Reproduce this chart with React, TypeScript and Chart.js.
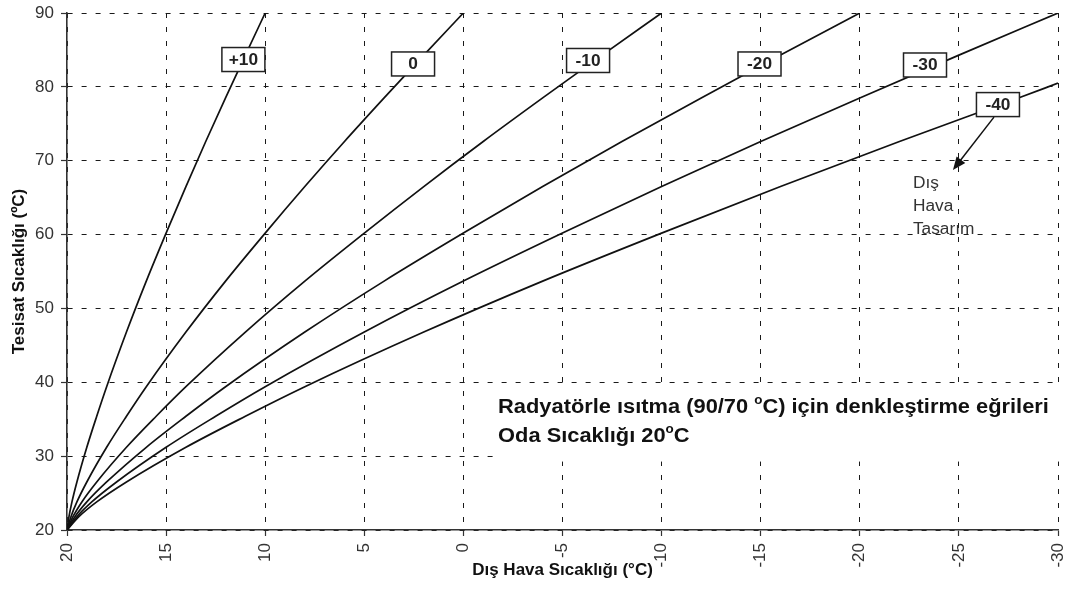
import React, { useEffect, useRef } from 'react';
import { Chart, registerables } from 'chart.js';

Chart.register(...registerables);

// ---- axes / ticks ----
const xTicks = [20, 15, 10, 5, 0, -5, -10, -15, -20, -25, -30];
const yTicks = [20, 30, 40, 50, 60, 70, 80, 90];

// ---- curves (design outdoor temperature) ----
const curveNames = ['+10', '0', '-10', '-20', '-30', '-40'];

const outdoorP10 = [20, 19.9, 19.75, 19.5, 19, 18.5, 18, 17, 16, 15, 14, 13, 12, 11, 10];
const supplyP10 = [20, 21.8, 23.8, 26.5, 31.2, 35.4, 39.4, 46.8, 53.7, 60.2, 66.5, 72.6, 78.5, 84.3, 90];

const outdoor0 = [20, 19.8, 19.5, 19, 18, 17, 16, 14, 12, 10, 8, 6, 4, 2, 0];
const supply0 = [20, 21.8, 23.8, 26.5, 31.2, 35.4, 39.4, 46.8, 53.7, 60.2, 66.5, 72.6, 78.5, 84.3, 90];

const outdoorM10 = [20, 19.7, 19.25, 18.5, 17, 15.5, 14, 11, 8, 5, 2, -1, -4, -7, -10];
const supplyM10 = [20, 21.8, 23.8, 26.5, 31.2, 35.4, 39.4, 46.8, 53.7, 60.2, 66.5, 72.6, 78.5, 84.3, 90];

const outdoorM20 = [20, 19.6, 19, 18, 16, 14, 12, 8, 4, 0, -4, -8, -12, -16, -20];
const supplyM20 = [20, 21.8, 23.8, 26.5, 31.2, 35.4, 39.4, 46.8, 53.7, 60.2, 66.5, 72.6, 78.5, 84.3, 90];

const outdoorM30 = [20, 19.5, 18.75, 17.5, 15, 12.5, 10, 5, 0, -5, -10, -15, -20, -25, -30];
const supplyM30 = [20, 21.8, 23.8, 26.5, 31.2, 35.4, 39.4, 46.8, 53.7, 60.2, 66.5, 72.6, 78.5, 84.3, 90];

const outdoorM40 = [20, 19.4, 18.5, 17, 14, 11, 8, 2, -4, -10, -16, -22, -28, -30];
const supplyM40 = [20, 21.8, 23.8, 26.5, 31.2, 35.4, 39.4, 46.8, 53.7, 60.2, 66.5, 72.6, 78.5, 80.5];

// label boxes (data coordinates of their centres)
const labelX = [11.1, 2.54, -6.29, -14.94, -23.29, -26.97];
const labelY = [83.7, 83.1, 83.57, 83.1, 82.96, 77.6];

// annotation texts
const designLines = ['Dış', 'Hava', 'Tasarım'];
const titleLine1 = ['Radyatörle ısıtma (90/70 ', 'o', 'C) için denkleştirme eğrileri'];
const titleLine2 = ['Oda Sıcaklığı 20', 'o', 'C'];

const FONT = "'Liberation Sans', Arial, sans-serif";
const SX = 1.12;

function drawPieces(ctx: CanvasRenderingContext2D, pieces: string[], x: number, y: number, size: number) {
  let cx = x;
  pieces.forEach((p, i) => {
    const sup = i === 1;
    ctx.font = `bold ${sup ? Math.round(size * 0.62) : size}px ${FONT}`;
    const w = ctx.measureText(p).width * SX;
    ctx.save();
    ctx.translate(cx, sup ? y - size * 0.42 : y);
    ctx.scale(SX, 1);
    ctx.textAlign = 'left';
    ctx.textBaseline = 'alphabetic';
    ctx.fillText(p, 0, 0);
    ctx.restore();
    cx += w;
  });
}

const NOTE_X = -1.75;
const NOTE_Y = 35.9;

const annotPlugin = {
  id: 'annot',
  beforeDatasetsDraw(chart: any) {
    const { ctx, scales, chartArea } = chart;
    const tx = scales.x.getPixelForValue(NOTE_X);
    const ty = scales.y.getPixelForValue(NOTE_Y);
    ctx.save();
    ctx.fillStyle = '#ffffff';
    ctx.fillRect(tx - 5, ty - 28, chartArea.right + 4 - (tx - 5), 77);
    ctx.restore();
  },
  afterDatasetsDraw(chart: any) {
    const { ctx, scales } = chart;
    const xs = scales.x;
    const ys = scales.y;
    ctx.save();
    // label boxes
    curveNames.forEach((name, i) => {
      const cx = xs.getPixelForValue(labelX[i]);
      const cy = ys.getPixelForValue(labelY[i]);
      const w = 43;
      const h = 24;
      ctx.fillStyle = '#fff';
      ctx.fillRect(cx - w / 2, cy - h / 2, w, h);
      ctx.strokeStyle = '#222';
      ctx.lineWidth = 1.5;
      ctx.strokeRect(cx - w / 2, cy - h / 2, w, h);
      ctx.fillStyle = '#222';
      ctx.font = `bold 16px ${FONT}`;
      ctx.save();
      ctx.translate(cx, cy + 1);
      ctx.scale(1.08, 1);
      ctx.textAlign = 'center';
      ctx.textBaseline = 'middle';
      ctx.fillText(name, 0, 0);
      ctx.restore();
    });
    // arrow
    const x1 = xs.getPixelForValue(-26.77);
    const y1 = ys.getPixelForValue(75.9);
    const x2 = xs.getPixelForValue(-24.7);
    const y2 = ys.getPixelForValue(68.74);
    const ang = Math.atan2(y2 - y1, x2 - x1);
    const hl = 13;
    const hw = 5.5;
    ctx.strokeStyle = '#111';
    ctx.lineWidth = 1.5;
    ctx.beginPath();
    ctx.moveTo(x1, y1);
    ctx.lineTo(x2 - Math.cos(ang) * hl * 0.8, y2 - Math.sin(ang) * hl * 0.8);
    ctx.stroke();
    ctx.fillStyle = '#111';
    ctx.beginPath();
    ctx.moveTo(x2, y2);
    ctx.lineTo(x2 - Math.cos(ang) * hl - Math.sin(ang) * hw, y2 - Math.sin(ang) * hl + Math.cos(ang) * hw);
    ctx.lineTo(x2 - Math.cos(ang) * hl + Math.sin(ang) * hw, y2 - Math.sin(ang) * hl - Math.cos(ang) * hw);
    ctx.closePath();
    ctx.fill();
    // design text
    const dx = xs.getPixelForValue(-22.68);
    const dy = ys.getPixelForValue(66.3);
    ctx.fillStyle = '#333';
    ctx.font = `16px ${FONT}`;
    designLines.forEach((t, i) => {
      ctx.save();
      ctx.translate(dx, dy + i * 23);
      ctx.scale(1.08, 1);
      ctx.textAlign = 'left';
      ctx.textBaseline = 'alphabetic';
      ctx.fillText(t, 0, 0);
      ctx.restore();
    });
    // main note
    const tx = xs.getPixelForValue(NOTE_X);
    const ty = ys.getPixelForValue(NOTE_Y);
    ctx.fillStyle = '#111';
    drawPieces(ctx, titleLine1, tx, ty, 19.5);
    drawPieces(ctx, titleLine2, tx, ty + 29, 19.5);
    ctx.restore();
  },
};

const curveSets = [
  [outdoorP10, supplyP10],
  [outdoor0, supply0],
  [outdoorM10, supplyM10],
  [outdoorM20, supplyM20],
  [outdoorM30, supplyM30],
  [outdoorM40, supplyM40],
];

function zeroPad(s: any) {
  s.paddingLeft = 0;
  s.paddingRight = 0;
  s.paddingTop = 0;
  s.paddingBottom = 0;
}

export default function App() {
  const ref = useRef<HTMLCanvasElement>(null);
  useEffect(() => {
    document.body.style.margin = '0';
    const datasets = curveSets.map(([xs, ys], i) => ({
      label: curveNames[i],
      data: xs.map((x, j) => ({ x, y: ys[j] })),
      borderColor: '#111',
      borderWidth: 1.7,
      pointRadius: 0,
      fill: false,
      cubicInterpolationMode: 'monotone' as const,
    }));
    const chart = new Chart(ref.current!, {
      type: 'line',
      data: { datasets },
      options: {
        animation: false,
        responsive: false,
        maintainAspectRatio: false,
        layout: { padding: { left: 0, right: 15, top: 13, bottom: 0 } },
        plugins: { legend: { display: false }, tooltip: { enabled: false } },
        scales: {
          x: {
            type: 'linear',
            reverse: true,
            min: -30,
            max: 20,
            afterBuildTicks: (s: any) => {
              s.ticks = xTicks.map((v) => ({ value: v }));
            },
            afterFit: (s: any) => {
              s.height = 60;
              zeroPad(s);
            },
            ticks: {
              autoSkip: false,
              minRotation: 90,
              maxRotation: 90,
              padding: 7,
              color: '#333',
              font: { family: FONT, size: 17 },
              callback: (v: any) => String(v),
            },
            grid: { color: '#1a1a1a', lineWidth: 1, tickLength: 6, tickColor: '#333', tickWidth: 1.2 },
            border: { display: true, color: '#333', width: 1.6, dash: [5, 9] },
            title: {
              display: true,
              text: 'Dış Hava Sıcaklığı (°C)',
              color: '#111',
              font: { family: FONT, size: 17, weight: 'bold' },
              padding: { top: 0, bottom: 9 },
            },
          },
          y: {
            type: 'linear',
            min: 20,
            max: 90,
            afterBuildTicks: (s: any) => {
              s.ticks = yTicks.map((v) => ({ value: v }));
            },
            afterFit: (s: any) => {
              s.width = 67;
              zeroPad(s);
            },
            ticks: {
              padding: 7,
              color: '#333',
              font: { family: FONT, size: 17 },
              callback: (v: any) => String(v),
            },
            grid: { color: '#1a1a1a', lineWidth: 1, tickLength: 6, tickColor: '#333', tickWidth: 1.2 },
            border: { display: true, color: '#333', width: 1.6, dash: [5, 9] },
            title: {
              display: true,
              text: 'Tesisat Sıcaklığı (ºC)',
              color: '#111',
              font: { family: FONT, size: 17, weight: 'bold' },
              padding: { top: 9, bottom: 0 },
            },
          },
        },
      },
      plugins: [annotPlugin],
    });
    return () => chart.destroy();
  }, []);
  return (
    <div style={{ position: 'absolute', left: 0, top: 0, width: 1073, height: 590, background: '#fff' }}>
      <canvas ref={ref} width={1073} height={590} style={{ display: 'block' }} />
    </div>
  );
}
